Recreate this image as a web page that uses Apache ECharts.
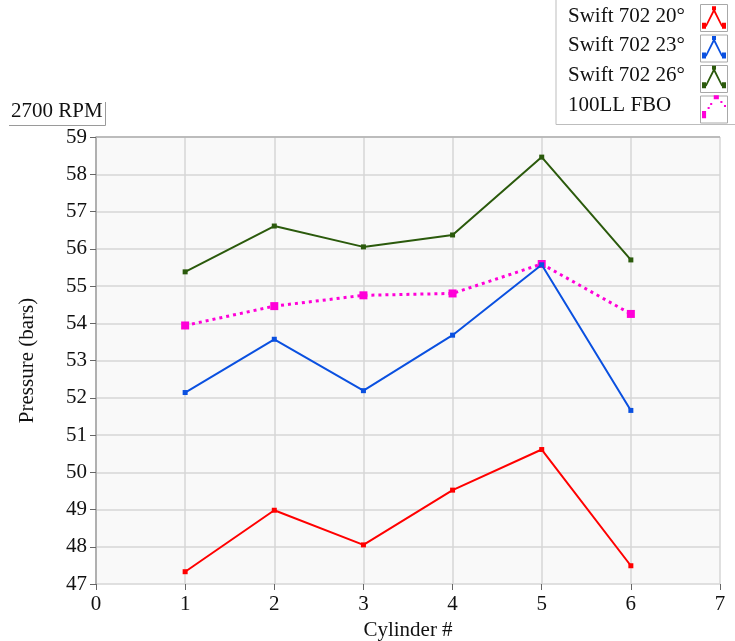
<!DOCTYPE html>
<html>
<head>
<meta charset="utf-8">
<script src="https://cdn.jsdelivr.net/npm/echarts@6/dist/echarts.min.js"></script>
<style>html,body{margin:0;padding:0;background:#fff;}#c{width:735px;height:641px;}</style>
</head>
<body>
<div id="c"></div>
<script>
// ---- data ----
const cylinders = [1, 2, 3, 4, 5, 6];
const swift20 = [47.33, 48.98, 48.05, 49.52, 50.61, 47.49];
const swift23 = [52.14, 53.57, 52.19, 53.68, 55.57, 51.66];
const swift26 = [55.38, 56.61, 56.05, 56.37, 58.46, 55.70];
const fbo100LL = [53.94, 54.46, 54.75, 54.80, 55.59, 54.25];
const seriesNames = ['Swift 702 20°', 'Swift 702 23°', 'Swift 702 26°', '100LL FBO'];
const xTicks = [0, 1, 2, 3, 4, 5, 6, 7];
const yTicks = [47, 48, 49, 50, 51, 52, 53, 54, 55, 56, 57, 58, 59];
const chartLabel = '2700 RPM';
const xName = 'Cylinder #';
const yName = 'Pressure (bars)';

const pairs = v => cylinders.map((c, i) => [c, v[i]]);
const FONT = '"Liberation Serif", "DejaVu Serif", serif';
const FS = 21;

const chevron = 'path://M1,18 L5,18 L5,19.5 L11.9,5.5 L11,5.5 L11,1.5 L15,1.5 L15,5.5 L14.1,5.5 L21,19.5 L21,18 L25,18 L25,24 L21,24 L21,22 L20.4,22 L13,7.5 L5.6,22 L5,22 L5,24 L1,24 Z';
const dotted = 'path://M1,17 L5,17 L5,24 L1,24 Z M6.5,13 L8.5,13 L8.5,15 L6.5,15 Z M9,9 L11,9 L11,11 L9,11 Z M12.5,1.5 L17.5,1.5 L17.5,5.5 L12.5,5.5 Z M19,7 L21,7 L21,9 L19,9 Z M22.5,11 L24.5,11 L24.5,13 L22.5,13 Z';

const colors = ['#ff0000', '#0a50e0', '#2b5a0c', '#ff00d8'];
const datas = [swift20, swift23, swift26, fbo100LL];

const chart = echarts.init(document.getElementById('c'), null, {renderer: 'canvas'});
const legendTop = 4, rowStep = 30.5;
const boxes = [];
for (let i = 0; i < 4; i++) {
  boxes.push({type: 'rect', left: 700, top: legendTop + i * rowStep, shape: {width: 27, height: 27},
    style: {fill: '#fff', stroke: '#a8a8a8', lineWidth: 1}, z: 1});
}
chart.setOption({
  backgroundColor: '#ffffff',
  animation: false,
  title: {
    text: chartLabel, left: 11, top: 101, padding: 0,
    textStyle: {fontFamily: FONT, fontSize: FS, fontWeight: 'normal', color: '#111'}
  },
  legend: {
    orient: 'vertical', right: 9, top: legendTop + 1.5, padding: 0, align: 'right',
    itemWidth: 24, itemHeight: 24, itemGap: rowStep - 24,
    data: seriesNames.map((n, i) => ({name: n, icon: i === 3 ? dotted : chevron})),
    formatter: n => '{t|' + n + '}',
    textStyle: {fontFamily: FONT, fontSize: FS, color: '#111',
      rich: {t: {width: 129, align: 'left', fontFamily: FONT, fontSize: FS, color: '#111', padding: [0, 0, 3, 0]}}},
    z: 5
  },
  graphic: [
    {type: 'polyline', shape: {points: [[556, 0], [556, 124.5], [735, 124.5]]}, style: {stroke: '#bdbdbd', lineWidth: 1, fill: null}},
    {type: 'polyline', shape: {points: [[9, 125.5], [105.5, 125.5], [105.5, 102]]}, style: {stroke: '#9a9a9a', lineWidth: 1, fill: null}},
    {type: 'line', shape: {x1: 96, y1: 137, x2: 720, y2: 137}, style: {stroke: '#b0b0b0', lineWidth: 1.5}, z: 3},
    ...boxes
  ],
  grid: {left: 96, right: 15, top: 137, bottom: 57, show: true, backgroundColor: '#f9f9f9', borderWidth: 0,
    containLabel: false, outerBoundsMode: 'none'},
  xAxis: {
    type: 'value', min: xTicks[0], max: xTicks[xTicks.length - 1], interval: 1,
    name: xName, nameLocation: 'middle', nameGap: 34,
    nameTextStyle: {fontFamily: FONT, fontSize: FS, color: '#111'},
    axisLine: {show: false},
    axisTick: {show: true, length: 6, lineStyle: {color: '#666'}},
    axisLabel: {fontFamily: FONT, fontSize: FS, color: '#111', margin: 10},
    splitLine: {show: true, lineStyle: {color: '#d6d6d6', width: 1.5}}
  },
  yAxis: {
    type: 'value', min: yTicks[0], max: yTicks[yTicks.length - 1], interval: 1,
    name: yName, nameLocation: 'middle', nameGap: 58, nameRotate: 90,
    nameTextStyle: {fontFamily: FONT, fontSize: FS, color: '#111'},
    axisLine: {show: true, lineStyle: {color: '#a0a0a0', width: 1.5}},
    axisTick: {show: true, length: 6, lineStyle: {color: '#666'}},
    axisLabel: {fontFamily: FONT, fontSize: FS, color: '#111', margin: 9},
    splitLine: {show: true, lineStyle: {color: '#d6d6d6', width: 1.5}}
  },
  series: datas.map((d, i) => ({
    name: seriesNames[i], type: 'line', data: pairs(d),
    symbol: 'rect', symbolSize: i === 3 ? 8 : 5, showSymbol: true,
    z: i === 3 ? 2 : 3 + i,
    color: colors[i],
    itemStyle: {color: colors[i]},
    lineStyle: {color: colors[i], width: i === 3 ? 3 : 2, type: i === 3 ? [3, 4] : 'solid'},
    emphasis: {disabled: true}
  }))
});
</script>
</body>
</html>
